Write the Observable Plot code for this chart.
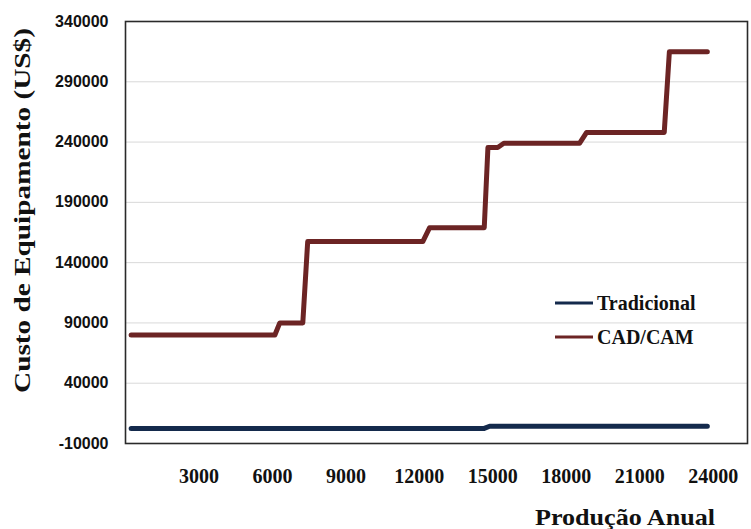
<!DOCTYPE html>
<html>
<head>
<meta charset="utf-8">
<script src="https://cdn.jsdelivr.net/npm/d3@7"></script>
<script src="https://cdn.jsdelivr.net/npm/@observablehq/plot@0.6"></script>
<style>
  body { margin: 0; background: #fff; }
</style>
</head>
<body>
<div id="chart"></div>
<script>
// Series: Tradicional
const tradX = [230, 14650, 14870, 23760];
const tradY = [2500, 2500, 4300, 4300];

// Series: CAD/CAM
const cadX = [230, 6100, 6300, 7240, 7440, 12140, 12420, 14650, 14800, 15200, 15450, 18540, 18830, 22000, 22210, 23760];
const cadY = [80000, 80000, 90000, 90000, 157500, 157500, 169000, 169000, 235500, 235500, 239000, 239000, 248000, 248000, 315000, 315000];

// Tick labels
const yTicks = [-10000, 40000, 90000, 140000, 190000, 240000, 290000, 340000];
const xTicks = [3000, 6000, 9000, 12000, 15000, 18000, 21000, 24000];

const seriesNames = ["Tradicional", "CAD/CAM"];
const seriesColors = ["#142a4c", "#6c2424"];

const trad = tradX.map((x, i) => ({x, y: tradY[i], s: seriesNames[0]}));
const cad = cadX.map((x, i) => ({x, y: cadY[i], s: seriesNames[1]}));

const W = 751, H = 529;
const plot = Plot.plot({
  width: W,
  height: H,
  marginLeft: 125,
  marginRight: 4,
  marginTop: 21,
  marginBottom: 86,
  style: {background: "#fff", overflow: "visible"},
  x: {domain: [0, 25400]},
  y: {domain: [-10000, 340000]},
  marks: [
    Plot.gridY(yTicks, {stroke: "#d9d9d9", strokeOpacity: 1, strokeWidth: 1}),
    Plot.line(cad, {x: "x", y: "y", stroke: seriesColors[1], strokeWidth: 5, strokeLinejoin: "round", strokeLinecap: "round"}),
    Plot.line(trad, {x: "x", y: "y", stroke: seriesColors[0], strokeWidth: 5, strokeLinejoin: "round", strokeLinecap: "round"}),
    Plot.frame({stroke: "#2a2a2a", strokeWidth: 1.6}),
    Plot.axisY(yTicks, {tickSize: 0, tickPadding: 17, label: null, tickFormat: d => String(d),
      fontFamily: "Liberation Sans, Arial, sans-serif", fontWeight: "bold", fontSize: 16, fill: "#111"}),
    Plot.axisX(xTicks, {tickSize: 0, tickPadding: 25, label: null, tickFormat: d => String(d),
      fontFamily: "Liberation Serif, Times New Roman, serif", fontWeight: "bold", fontSize: 20, fill: "#111"})
  ]
});

const svg = d3.select(plot);

// Axis titles
svg.append("text")
  .attr("transform", "translate(30,210.5) rotate(-90)")
  .attr("text-anchor", "middle")
  .attr("font-family", "Liberation Serif, Times New Roman, serif")
  .attr("font-weight", "bold")
  .attr("font-size", 24)
  .attr("fill", "#111")
  .attr("textLength", 365)
  .attr("lengthAdjust", "spacingAndGlyphs")
  .text("Custo de Equipamento (US$)");

svg.append("text")
  .attr("x", 625)
  .attr("y", 525)
  .attr("text-anchor", "middle")
  .attr("font-family", "Liberation Serif, Times New Roman, serif")
  .attr("font-weight", "bold")
  .attr("font-size", 24)
  .attr("fill", "#111")
  .attr("textLength", 180)
  .attr("lengthAdjust", "spacingAndGlyphs")
  .text("Produção Anual");

// Legend
const leg = svg.append("g");
seriesNames.forEach((name, i) => {
  const y = 303 + i * 34;
  leg.append("line")
    .attr("x1", 555).attr("x2", 593)
    .attr("y1", y).attr("y2", y)
    .attr("stroke", seriesColors[i])
    .attr("stroke-width", 3);
  leg.append("text")
    .attr("x", 597)
    .attr("y", y + 7)
    .attr("text-anchor", "start")
    .attr("font-family", "Liberation Serif, Times New Roman, serif")
    .attr("font-weight", "bold")
    .attr("font-size", 20)
    .attr("fill", "#111")
    .text(name);
});

document.getElementById("chart").appendChild(plot);
</script>
</body>
</html>
